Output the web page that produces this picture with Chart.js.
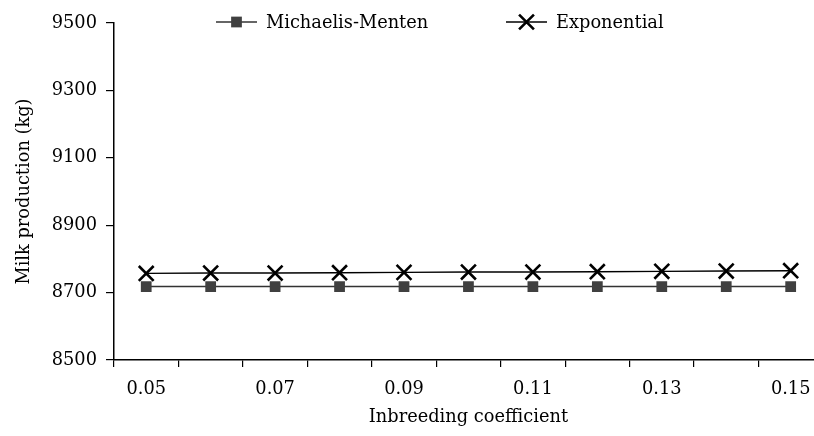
<!DOCTYPE html>
<html>
<head>
<meta charset="utf-8">
<script src="https://cdn.jsdelivr.net/npm/chart.js@4/dist/chart.umd.min.js"></script>
<style>
html,body{margin:0;padding:0;background:#fff;overflow:hidden;width:814px;height:436px;}
#wrap{position:relative;width:836px;height:436px;}
</style>
</head>
<body>
<div id="wrap"><canvas id="c" width="836" height="436"></canvas></div>
<script>
const categories = ['0.05','0.06','0.07','0.08','0.09','0.10','0.11','0.12','0.13','0.14','0.15'];
const michaelisMenten = [8718,8718,8718,8718,8718,8718,8718,8718,8718,8718,8718];
const exponential = [8757,8758,8758,8759,8760,8761,8761,8762,8763,8764,8765];
const yTicks = [8500,8700,8900,9100,9300,9500];
const seriesNames = ['Michaelis-Menten','Exponential'];

const FONT = "'DejaVu Serif', serif";
const FS = 17.8;

const legendPlugin = {
  id: 'customLegend',
  afterDraw(chart) {
    const ctx = chart.ctx;
    const y = 22;
    const items = [
      {x1: 216, x2: 257, tx: 266, ds: chart.data.datasets[0]},
      {x1: 506, x2: 547, tx: 556, ds: chart.data.datasets[1]}
    ];
    ctx.save();
    items.forEach(it => {
      const ds = it.ds;
      ctx.strokeStyle = ds.borderColor;
      ctx.lineWidth = ds.borderWidth;
      ctx.beginPath();
      ctx.moveTo(it.x1, y); ctx.lineTo(it.x2, y); ctx.stroke();
      const cx = (it.x1 + it.x2) / 2;
      ctx.fillStyle = ds.pointBackgroundColor;
      ctx.strokeStyle = ds.pointBorderColor;
      ctx.lineWidth = ds.pointBorderWidth;
      Chart.helpers.drawPoint(ctx, {
        pointStyle: ds.pointStyle, radius: ds.pointRadius, rotation: 0,
        borderWidth: ds.pointBorderWidth
      }, cx, y);
      ctx.fillStyle = '#000';
      ctx.font = FS + "px " + FONT;
      ctx.textBaseline = 'middle';
      ctx.textAlign = 'left';
      ctx.fillText(ds.label, it.tx, y + 1);
    });
    ctx.restore();
  }
};

new Chart(document.getElementById('c'), {
  type: 'line',
  data: {
    labels: categories,
    datasets: [
      {
        label: seriesNames[0],
        data: michaelisMenten,
        borderColor: '#333333',
        borderWidth: 1.4,
        pointStyle: 'rect',
        pointRadius: 7.6,
        pointBackgroundColor: '#404040',
        pointBorderColor: '#404040',
        pointBorderWidth: 0,
        fill: false,
        tension: 0
      },
      {
        label: seriesNames[1],
        data: exponential,
        borderColor: '#000000',
        borderWidth: 1.4,
        pointStyle: 'crossRot',
        pointRadius: 10.5,
        pointBackgroundColor: '#000000',
        pointBorderColor: '#000000',
        pointBorderWidth: 2.6,
        fill: false,
        tension: 0
      }
    ]
  },
  options: {
    responsive: false,
    animation: false,
    devicePixelRatio: 1,
    layout: {padding: {top: 23, left: 0, right: 8, bottom: 0}},
    plugins: {legend: {display: false}, tooltip: {enabled: false}},
    scales: {
      x: {
        type: 'category',
        offset: true,
        grid: {offset: true, drawOnChartArea: false, drawTicks: true, tickLength: 7, color: '#000', lineWidth: 1.2},
        border: {display: true, color: '#000', width: 1.5},
        ticks: {
          autoSkip: false, maxRotation: 0, padding: 12, color: '#000',
          font: {family: FONT, size: FS},
          callback: function(v, i) { return i % 2 === 0 ? categories[i] : ''; }
        },
        title: {display: true, text: 'Inbreeding coefficient', color: '#000', font: {family: FONT, size: FS}, padding: {top: 4, bottom: 8}},
        afterFit: s => { s.height = 76; }
      },
      y: {
        min: 8500, max: 9500,
        afterBuildTicks: s => { s.ticks = yTicks.map(v => ({value: v})); },
        grid: {drawOnChartArea: false, drawTicks: true, tickLength: 8, color: '#000', lineWidth: 1.2},
        border: {display: true, color: '#000', width: 1.5},
        ticks: {padding: 9, color: '#000', font: {family: FONT, size: FS}, callback: v => String(v)},
        title: {display: true, text: 'Milk production (kg)', color: '#000', font: {family: FONT, size: FS}, padding: {top: 14, bottom: 4}},
        afterFit: s => { s.width = 114; }
      }
    }
  },
  plugins: [legendPlugin]
});
</script>
</body>
</html>
